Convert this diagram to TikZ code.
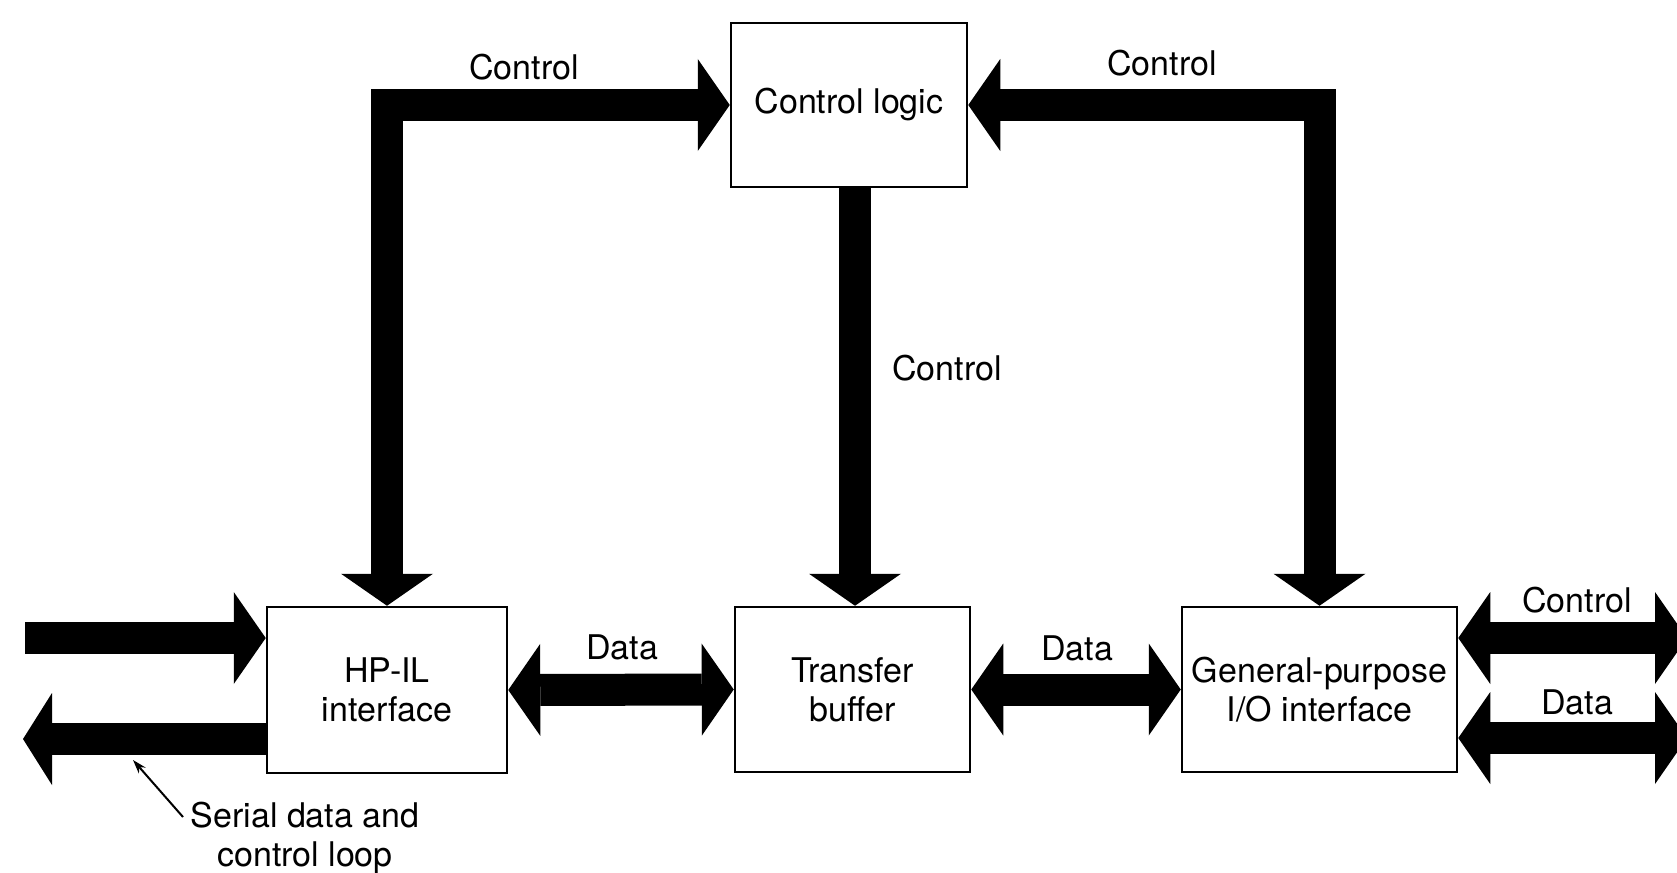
\documentclass[tikz,border=0pt]{standalone}
\usepackage{fontspec}
\setmainfont{TeX Gyre Heros}
\usetikzlibrary{arrows.meta}
\tikzset{
  blk/.style={draw=black, line width=2.5pt, fill=white, inner sep=0pt, align=center,
    font=\fontsize{34}{39}\selectfont},
  lbl/.style={inner sep=0pt, font=\fontsize{34}{39}\selectfont},
  bus/.style={line width=32pt, line join=miter, draw=black},
  bushead/.tip={Triangle[length=32pt,width=92pt,line width=0pt]},
  busend/.style={-bushead},
  bus2/.style={bushead-bushead},
}
\begin{document}
\begin{tikzpicture}[x=1pt,y=-1pt]
\useasboundingbox (0,0) rectangle (1677,872);
\clip (0,0) rectangle (1677,872);
\fill[white] (0,0) rectangle (1677,872);
% blocks
\node[blk, minimum width=236pt, minimum height=164pt] (cl) at (849,105) {Control logic};
\node[blk, minimum width=240pt, minimum height=166pt] (hp) at (387,690) {HP-IL\\interface};
\node[blk, minimum width=235pt, minimum height=165pt] (tb) at (852.5,689.5) {Transfer\\buffer};
\node[blk, minimum width=275pt, minimum height=165pt] (gp) at (1319.5,689.5) {General-purpose\\I/O interface};
% control buses
\draw[bus, bus2] (hp.north) |- (cl.west);
\draw[bus, bus2] (gp.north) |- (cl.east);
\coordinate (m1) at ([xshift=6pt]cl.south);
\draw[bus, busend] (m1) -- (m1 |- tb.north);
% data buses
\draw[bus, bus2] (hp.east) -- (tb.west);
\draw[bus, bus2] (tb.east) -- (gp.west);
% serial loop
\coordinate (inL) at (25,638);
\coordinate (outL) at (23,739);
\draw[bus, busend] (inL) -- (inL -| hp.west);
\draw[bus, -{Triangle[length=29pt,width=92pt,line width=0pt]}] (outL -| hp.west) -- (outL);
% external right
\coordinate (ctlR) at (1687,638);
\coordinate (datR) at (1687,738);
\draw[bus, bus2] (ctlR -| gp.east) -- (ctlR);
\draw[bus, bus2] (datR -| gp.east) -- (datR);
% labels
\node[lbl] (lc1) at (524,67) {Control};
\node[lbl] (lc2) at (1162,63) {Control};
\node[lbl] (lc3) at (947,368) {Control};
\node[lbl] (ld1) at (622,647) {Data};
\node[lbl] (ld2) at (1077,648) {Data};
\node[lbl] (lc4) at (1577,600) {Control};
\node[lbl] (ld3) at (1577,702) {Data};
\node[lbl, align=center] (ser) at (305,838) {Serial data and\\control loop};
\coordinate (pst) at (183,817);
\coordinate (ptip) at (133,760);
\draw[line width=2pt, -{Stealth[length=14pt,width=9pt]}] (pst) -- (ptip);
\end{tikzpicture}
\end{document}
